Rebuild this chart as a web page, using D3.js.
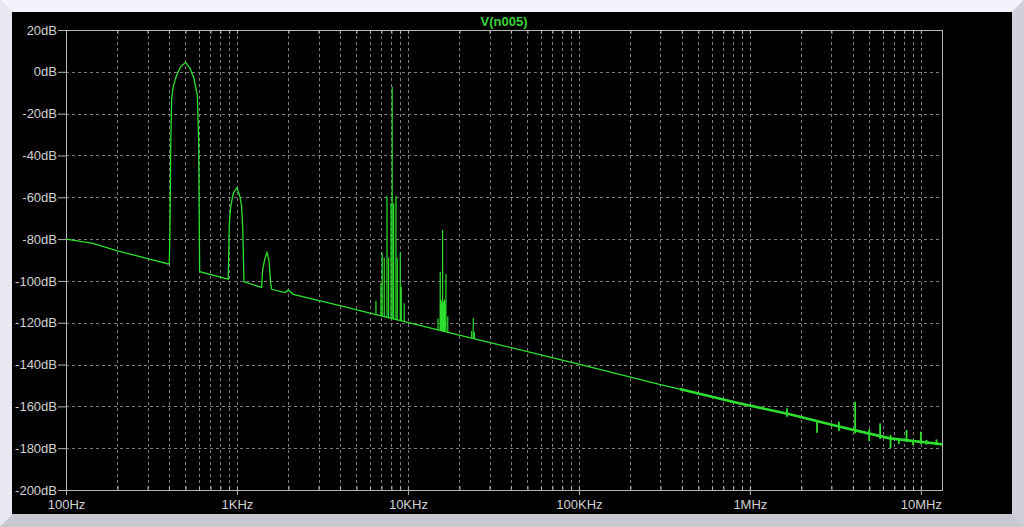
<!DOCTYPE html>
<html>
<head>
<meta charset="utf-8">
<script src="https://cdnjs.cloudflare.com/ajax/libs/d3/7.8.5/d3.min.js"></script>
<style>
    body { margin: 0; background: #c8c8d4; }
    svg text { font-family: "Liberation Sans", Arial, sans-serif; }
</style>
</head>
<body>
<div id="chart"></div>
<script>

// Values: [frequency Hz, dB]
var traceName = "V(n005)";
var freqRange = [100, 13.3e6];
var dbRange = [-200, 20];
var yTicks = [20, 0, -20, -40, -60, -80, -100, -120, -140, -160, -180, -200];
var xDecades = [100, 1e3, 1e4, 1e5, 1e6, 1e7];
var xTickLabels = ["100Hz", "1KHz", "10KHz", "100KHz", "1MHz", "10MHz"];

var trace = [
    [100, -80.0], [144, -82.0], [202, -85.7], [296, -89.2], [397, -91.9], [402, -91.6],
    [406, -72.5], [410, -34.2], [415, -12.7], [424, -7.1], [444, -1.5], [469, 2.5], [501, 4.5],
    [531, 1.7], [560, -3.1], [586, -11.1], [597, -32.6], [602, -74.1], [605, -95.6],
    [889, -99.2], [902, -72.5], [919, -64.5], [951, -58.1], [1000, -55.4], [1041, -59.7],
    [1065, -64.5], [1080, -74.1], [1099, -100.4],
    [1394, -103.1], [1413, -94.8], [1458, -89.2], [1498, -86.5], [1539, -90.0], [1574, -101.2], [1596, -104.0],
    [1909, -105.6], [1995, -104.3], [2134, -106.4], [4000, -111.8], [5600, -114.8], [26300, -128.3],
    [101000, -139.9], [296000, -149.5], [389000, -151.7], [875000, -158.6], [1710000, -163.8],
    [3360000, -169.7], [6590000, -175.3], [12900000, -178.0], [13300000, -178.2]
];

// [frequency, top dB, base dB]
var spikesLow = [
    [6500, -109.6, -116.3], [6950, -101.2, -116.8], [7070, -86.5, -117.0], [7270, -88.9, -117.2],
    [7540, -59.4, -117.5], [7710, -88.9, -117.7], [7960, -62.9, -118.0], [8090, -7.1, -118.1],
    [8250, -62.9, -118.3], [8510, -59.4, -118.6], [8660, -89.2, -118.7], [9020, -86.5, -119.1],
    [9140, -102.8, -119.2], [9510, -110.7, -119.6],
    [15000, -118.0, -123.6], [15450, -95.6, -123.8], [15500, -110.0, -123.9], [15600, -109.0, -123.9],
    [15700, -111.0, -124.0], [15800, -110.0, -124.0], [15960, -75.7, -124.1], [16100, -110.0, -124.1],
    [16200, -111.0, -124.2], [16300, -110.0, -124.2], [16400, -109.0, -124.3], [16500, -111.0, -124.3],
    [16680, -96.7, -124.4], [17100, -117.0, -124.6],
    [23600, -124.0, -127.3], [24100, -117.9, -127.4], [24500, -124.5, -127.5]
];

// [frequency, top dB, bottom dB]
var spursHigh = [
    [1650000, -160.9, -165.0], [2470000, -166.5, -172.6], [3320000, -167.3, -171.8],
    [4130000, -157.8, -172.9], [4990000, -171.0, -176.6], [5780000, -168.1, -175.6],
    [6650000, -173.7, -180.0], [7440000, -175.3, -178.0], [8250000, -171.3, -176.9],
    [9000000, -176.1, -178.5], [10000000, -172.1, -178.0], [10800000, -176.0, -178.3],
    [12350000, -175.8, -178.6]
];

FftPlot = function(_parentElement){
    var vis = this;
    vis.parentElement = _parentElement;
    vis.initVis();
};

FftPlot.prototype.initVis = function(){
    var vis = this;

    vis.W = 1024;
    vis.H = 527;
    vis.margin = { top: 30, right: 82, bottom: 37, left: 66 };
    vis.width = vis.W - vis.margin.left - vis.margin.right;
    vis.height = vis.H - vis.margin.top - vis.margin.bottom;

    vis.root = d3.select("#" + vis.parentElement).append("svg")
        .attr("width", vis.W)
        .attr("height", vis.H)
        .style("display", "block");

    // window bevel
    var b = 12;
    vis.root.append("polygon").attr("points", [[0,0],[vis.W,0],[vis.W-b,b],[b,b]].join(" ")).attr("fill", "#f3f3fb");
    vis.root.append("polygon").attr("points", [[0,0],[b,b],[b,vis.H-b],[0,vis.H]].join(" ")).attr("fill", "#e8e8f3");
    vis.root.append("polygon").attr("points", [[0,vis.H],[b,vis.H-b],[vis.W-b,vis.H-b],[vis.W,vis.H]].join(" ")).attr("fill", "#c8c8d2");
    vis.root.append("polygon").attr("points", [[vis.W,0],[vis.W-b,b],[vis.W-b,vis.H-b],[vis.W,vis.H]].join(" ")).attr("fill", "#d0d0dc");
    vis.root.append("rect").attr("x", b).attr("y", b).attr("width", vis.W - 2*b).attr("height", vis.H - 2*b - 1).attr("fill", "#000");

    vis.svg = vis.root.append("g")
        .attr("transform", "translate(" + vis.margin.left + "," + vis.margin.top + ")");

    vis.x = d3.scaleLog().domain(freqRange).range([0, vis.width]);
    vis.y = d3.scaleLinear().domain(dbRange).range([vis.height, 0]);

    vis.updateVis();
};

FftPlot.prototype.updateVis = function(){
    var vis = this;
    var axisColor = "#b4b4b4";
    var gridColor = "#7c7c7c";
    var green = "#2ee02e";
    var minor = vis.x.ticks();

    // grid
    vis.svg.append("g").selectAll("line.vgrid")
        .data(minor.filter(function(d){ return d > freqRange[0]; }))
        .enter().append("line")
        .attr("class", "vgrid")
        .attr("x1", function(d){ return Math.round(vis.x(d)) + 0.5; })
        .attr("x2", function(d){ return Math.round(vis.x(d)) + 0.5; })
        .attr("y1", 0).attr("y2", vis.height)
        .attr("stroke", gridColor).attr("stroke-dasharray", "3,3");

    vis.svg.append("g").selectAll("line.hgrid")
        .data(yTicks.filter(function(d){ return d > dbRange[0] && d < dbRange[1]; }))
        .enter().append("line")
        .attr("class", "hgrid")
        .attr("x1", 0).attr("x2", vis.width)
        .attr("y1", function(d){ return Math.round(vis.y(d)) + 0.5; })
        .attr("y2", function(d){ return Math.round(vis.y(d)) + 0.5; })
        .attr("stroke", gridColor).attr("stroke-dasharray", "3,3");

    // frame: top and right border
    vis.svg.append("rect")
        .attr("x", 0.5).attr("y", 0.5)
        .attr("width", vis.width).attr("height", vis.height)
        .attr("fill", "none").attr("stroke", axisColor);

    // axes
    var yAxis = d3.axisLeft(vis.y).tickValues(yTicks).tickSize(8).tickSizeOuter(0).tickPadding(1)
        .tickFormat(function(d){ return d + "dB"; });
    vis.svg.append("g").attr("class", "axis axis--y").call(yAxis);

    var xMinor = d3.axisBottom(vis.x).tickValues(minor).tickSize(-4).tickSizeOuter(0).tickFormat("");
    vis.svg.append("g").attr("transform", "translate(0," + vis.height + ")").call(xMinor);

    var xAxis = d3.axisBottom(vis.x).tickValues(xDecades).tickSize(5).tickSizeOuter(0).tickPadding(5)
        .tickFormat(function(d, i){ return xTickLabels[i]; });
    vis.svg.append("g").attr("class", "axis axis--x").attr("transform", "translate(0," + vis.height + ")").call(xAxis);

    var xTop = d3.axisTop(vis.x).tickValues(minor).tickSize(-4).tickSizeOuter(0).tickFormat("");
    vis.svg.append("g").call(xTop);

    vis.root.selectAll(".domain, .tick line").attr("stroke", axisColor);
    vis.root.selectAll(".tick text")
        .attr("fill", "#d0d0d0")
        .style("font-size", "13px");

    // title
    vis.svg.append("text")
        .attr("x", vis.width / 2)
        .attr("y", -4)
        .attr("text-anchor", "middle")
        .attr("fill", "#3ad23a")
        .style("font-size", "13px")
        .style("font-weight", "bold")
        .text(traceName);

    // trace
    vis.svg.append("clipPath").attr("id", "plot-clip")
        .append("rect").attr("width", vis.width).attr("height", vis.height);
    var plot = vis.svg.append("g").attr("clip-path", "url(#plot-clip)");

    var line = d3.line()
        .x(function(d){ return vis.x(d[0]); })
        .y(function(d){ return vis.y(d[1]); });

    plot.append("path")
        .datum(trace)
        .attr("d", line)
        .attr("fill", "none")
        .attr("stroke", green)
        .attr("stroke-width", 1.3);

    // noisy high band drawn heavier
    plot.append("path")
        .datum(trace.filter(function(d){ return d[0] >= 389000; }))
        .attr("d", line)
        .attr("fill", "none")
        .attr("stroke", green)
        .attr("stroke-width", 2.6);

    plot.selectAll(".spike")
        .data(spikesLow)
        .enter().append("line")
        .attr("class", "spike")
        .attr("x1", function(d){ return vis.x(d[0]); })
        .attr("x2", function(d){ return vis.x(d[0]); })
        .attr("y1", function(d){ return vis.y(d[1]); })
        .attr("y2", function(d){ return vis.y(d[2]); })
        .attr("stroke", green)
        .attr("stroke-width", 1.2);

    plot.selectAll(".spur")
        .data(spursHigh)
        .enter().append("line")
        .attr("class", "spur")
        .attr("x1", function(d){ return vis.x(d[0]); })
        .attr("x2", function(d){ return vis.x(d[0]); })
        .attr("y1", function(d){ return vis.y(d[1]); })
        .attr("y2", function(d){ return vis.y(d[2]); })
        .attr("stroke", green)
        .attr("stroke-width", 1.8);
};

new FftPlot("chart");

</script>
</body>
</html>
